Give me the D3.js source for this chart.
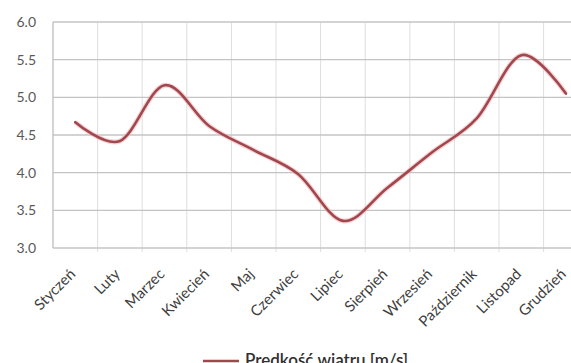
<!DOCTYPE html>
<html>
<head>
<meta charset="utf-8">
<script src="https://cdn.jsdelivr.net/npm/d3@7/dist/d3.min.js"></script>
<style>
  html, body { margin: 0; padding: 0; background: #fff; }
  svg { display: block; font-family: Lato, "Noto Sans", sans-serif; }
</style>
</head>
<body>
<svg id="chart" width="571" height="363"></svg>
<script>
// Average wind speed per month
const months = ["Styczeń", "Luty", "Marzec", "Kwiecień", "Maj", "Czerwiec",
                "Lipiec", "Sierpień", "Wrzesień", "Październik", "Listopad", "Grudzień"];
const windSpeed = [4.67, 4.42, 5.16, 4.62, 4.30, 3.98, 3.36, 3.80, 4.27, 4.72, 5.56, 5.05];
const yTicks = [3.0, 3.5, 4.0, 4.5, 5.0, 5.5, 6.0];
const seriesName = "Prędkość wiatru [m/s]";

const svg = d3.select("#chart");
const plotLeft = 53, plotRight = 588.2, plotTop = 22, plotBottom = 248;

const x = d3.scaleBand().domain(months).range([plotLeft, plotRight]).padding(0);
const y = d3.scaleLinear().domain([3, 6]).range([plotBottom, plotTop]);

// vertical grid at category boundaries
const bounds = d3.range(months.length + 1).map(i => plotLeft + i * x.step());
svg.append("g").selectAll("line").data(bounds.slice(1)).join("line")
  .attr("x1", d => d).attr("x2", d => d)
  .attr("y1", plotTop).attr("y2", plotBottom + 4)
  .attr("stroke", "#dedede").attr("stroke-width", 1);

// horizontal grid
svg.append("g").selectAll("line").data(yTicks).join("line")
  .attr("x1", plotLeft).attr("x2", plotRight)
  .attr("y1", d => y(d)).attr("y2", d => y(d))
  .attr("stroke", "#c4c4c4").attr("stroke-width", 1.3);

// left axis line
svg.append("line").attr("x1", plotLeft).attr("x2", plotLeft)
  .attr("y1", plotTop).attr("y2", plotBottom)
  .attr("stroke", "#bdbdbd").attr("stroke-width", 1.3);

// y tick labels
const yAxis = d3.axisLeft(y).tickValues(yTicks).tickFormat(d3.format(".1f")).tickSize(0).tickPadding(17);
const gy = svg.append("g").attr("transform", `translate(${plotLeft},0)`).call(yAxis);
gy.select(".domain").remove();
gy.selectAll("text").attr("fill", "#595959").style("font-size", "14px")
  .style("font-family", "Lato, 'Noto Sans', sans-serif");

// x tick labels, rotated
const xAxis = d3.axisBottom(x).tickSize(0).tickPadding(0);
const gx = svg.append("g").attr("transform", `translate(0,${plotBottom})`).call(xAxis);
gx.select(".domain").remove();
gx.selectAll("text")
  .attr("fill", "#404040").style("font-size", "15px")
  .style("font-family", "Lato, 'Noto Sans', sans-serif")
  .attr("text-anchor", "end")
  .attr("dy", "0")
  .attr("y", 0)
  .attr("transform", "translate(1,27) rotate(-45)");

// the smoothed series line
const line = d3.line()
  .x((d, i) => x(months[i]) + x.bandwidth() / 2)
  .y(d => y(d))
  .curve(d3.curveCardinal.tension(0));

svg.append("path").datum(windSpeed)
  .attr("d", line).attr("fill", "none")
  .attr("stroke", "#efb9bd").attr("stroke-width", 5).attr("stroke-opacity", 0.6);
svg.append("path").datum(windSpeed)
  .attr("d", line).attr("fill", "none")
  .attr("stroke", "#a1474d").attr("stroke-width", 2.6)
  .attr("stroke-linecap", "round");

// legend
const lg = svg.append("g").attr("transform", "translate(203,361)");
lg.append("line").attr("x1", 0).attr("x2", 36).attr("y1", 0).attr("y2", 0)
  .attr("stroke", "#a1474d").attr("stroke-width", 2.6);
lg.append("text").attr("x", 42).attr("y", 5)
  .attr("fill", "#303030").style("font-size", "17px").style("font-weight", "600")
  .text(seriesName);
</script>
</body>
</html>
